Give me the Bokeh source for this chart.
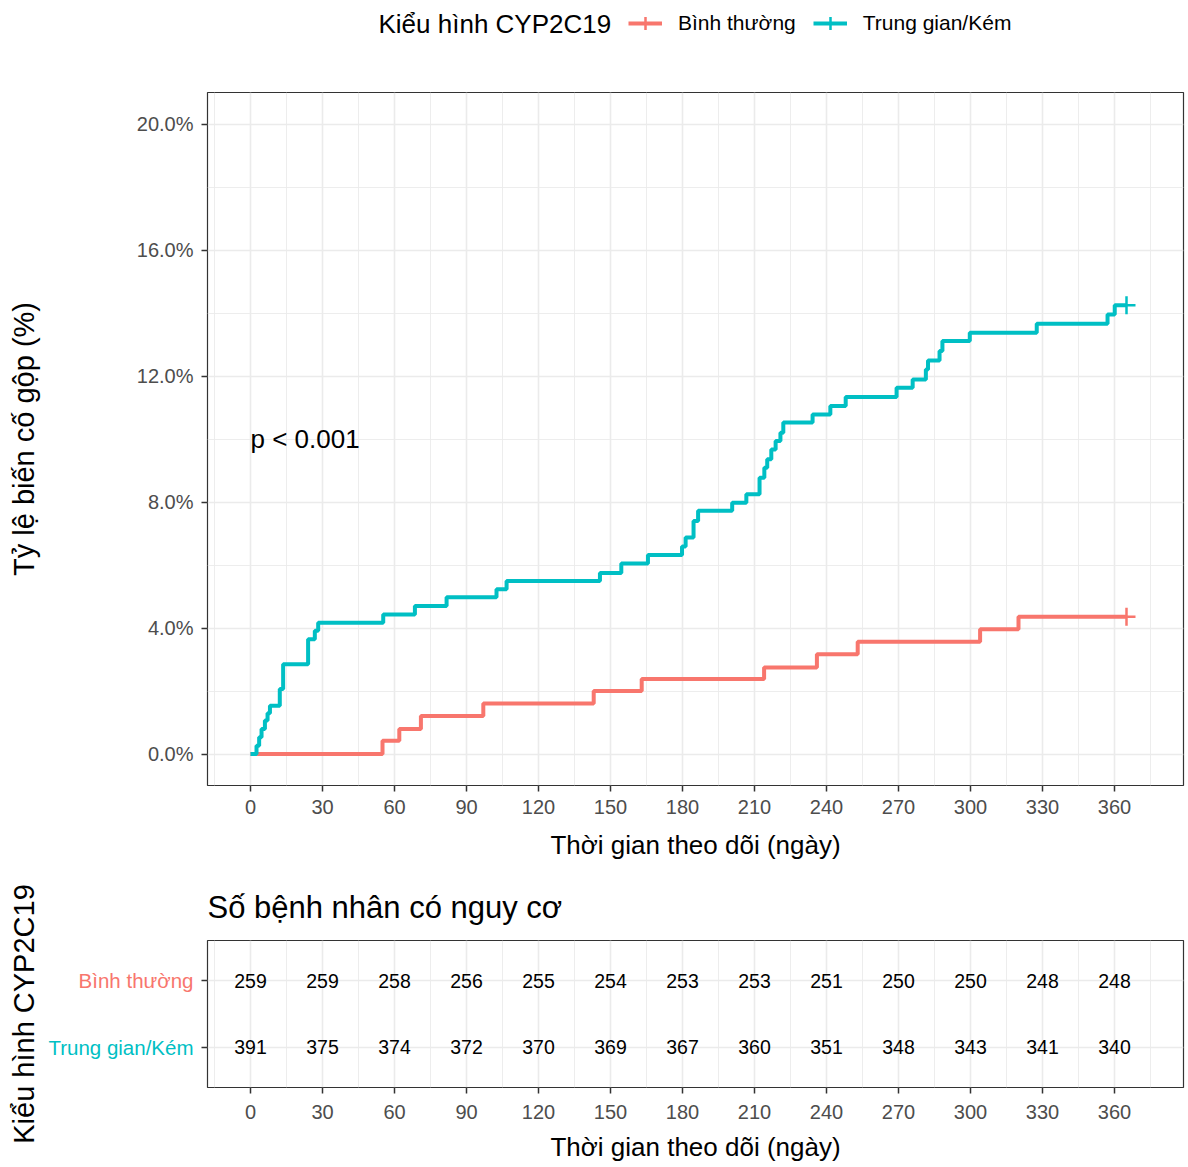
from bokeh.plotting import figure
from bokeh.models import (Range1d, FixedTicker, PrintfTickFormatter, Legend, LegendItem,
                          FactorRange, Label)
from bokeh.layouts import column, row
from bokeh.embed import file_html
from bokeh.resources import INLINE
from bokeh.core.properties import value

# ---------------- data ----------------
groups = ["Bình thường", "Trung gian/Kém"]
group_colors = ["#F8766D", "#00BFC4"]

red_days = [0, 55, 62, 71, 97, 143, 163, 214, 236, 253, 304, 320, 365]
red_pct = [0.0, 0.42, 0.79, 1.21, 1.60, 2.00, 2.38, 2.75, 3.17, 3.56, 3.96, 4.36, 4.36]

teal_days = [0, 2.5, 3.6, 4.6, 6.0, 7.1, 8.1, 12.2, 13.6, 24.0, 26.8, 28.2, 55.3, 68.5,
             81.7, 102.5, 106.7, 145.6, 154.5, 165.6, 179.8, 181.3, 184.6, 186.5, 200.7,
             206.6, 212.1, 214.1, 215.3, 217.0, 218.8, 220.8, 222.0, 234.2, 241.6, 248.0,
             269.2, 275.9, 281.4, 282.3, 287.1, 288.3, 299.7, 327.6, 357.1, 360.1, 365]
teal_pct = [0.0, 0.26, 0.53, 0.79, 1.06, 1.29, 1.53, 2.06, 2.85, 3.64, 3.91, 4.17, 4.43, 4.70,
            4.98, 5.23, 5.49, 5.75, 6.05, 6.32, 6.59, 6.87, 7.40, 7.72, 7.98,
            8.25, 8.77, 9.09, 9.36, 9.67, 9.94, 10.20, 10.52, 10.78, 11.05, 11.33,
            11.63, 11.89, 12.21, 12.49, 12.79, 13.11, 13.37, 13.66, 13.95, 14.25, 14.25]

censor_day = 365

risk_days = [0, 30, 60, 90, 120, 150, 180, 210, 240, 270, 300, 330, 360]
risk_normal = [259, 259, 258, 256, 255, 254, 253, 253, 251, 250, 250, 248, 248]
risk_inter = [391, 375, 374, 372, 370, 369, 367, 360, 351, 348, 343, 341, 340]

x_ticks = [0, 30, 60, 90, 120, 150, 180, 210, 240, 270, 300, 330, 360]
x_minor = [-15, 15, 45, 75, 105, 135, 165, 195, 225, 255, 285, 315, 345, 375]
y_ticks = [0, 4, 8, 12, 16, 20]
y_minor = [2, 6, 10, 14, 18]

legend_title = "Kiểu hình CYP2C19"
x_title = "Thời gian theo dõi (ngày)"
y_title = "Tỷ lệ biến cố gộp (%)"
risk_title = "Số bệnh nhân có nguy cơ"
pval_text = "p < 0.001"
pval_pos = (0, 10)

series_days = [red_days, teal_days]
series_pct = [red_pct, teal_pct]

FONT = "Liberation Sans"
GRID = "#EBEBEB"
DARK = "#333333"
TICKTXT = "#4D4D4D"

x_range = Range1d(-17.92, 388.75)


def style_common(p):
    p.outline_line_color = DARK
    p.outline_line_width = 1.2
    p.background_fill_color = "white"
    p.border_fill_color = "white"
    for ax in p.axis:
        ax.axis_line_color = None
        ax.major_tick_line_color = DARK
        ax.major_tick_line_width = 1.5
        ax.major_tick_out = 6
        ax.major_tick_in = 0
        ax.minor_tick_line_color = None
        ax.major_label_text_font = FONT
        ax.major_label_text_font_size = "20px"
        ax.major_label_text_color = TICKTXT
        ax.axis_label_text_font = FONT
        ax.axis_label_text_font_style = "normal"
        ax.axis_label_text_color = "black"
    p.xaxis.ticker = FixedTicker(ticks=x_ticks, minor_ticks=x_minor)
    p.xaxis.major_label_standoff = 8
    p.xaxis.axis_label = x_title
    p.xaxis.axis_label_text_font_size = "26px"
    p.xaxis.axis_label_standoff = 13
    p.xgrid.grid_line_color = GRID
    p.xgrid.grid_line_width = 1.6
    p.xgrid.minor_grid_line_color = GRID
    p.xgrid.minor_grid_line_width = 0.9


# ---------------- legend strip (top) ----------------
# Its frame is aligned by the column with the main frame (left edge at 207 px).
STRIP_H = 46
strip = figure(width=1188, height=STRIP_H, x_range=Range1d(1000, 1001),
               y_range=Range1d(1000, 1001),
               output_backend="svg", toolbar_location=None,
               x_axis_location=None, y_axis_location=None,
               min_border_left=0, min_border_right=0, min_border_top=0, min_border_bottom=0)
strip.outline_line_color = None
strip.grid.visible = False
key_items = []
for g, c, d, v in zip(groups, group_colors, series_days, series_pct):
    # same series as the main plot; the strip's ranges keep them out of view,
    # they only feed the legend key
    kl = strip.step(x=d, y=v, mode="after", line_color=c, line_width=4)
    kc = strip.scatter(x=[censor_day], y=[v[-1]], marker="cross", size=18,
                       line_color=c, line_width=2.5)
    key_items.append(LegendItem(label=g, renderers=[kl, kc]))
strip.add_layout(Label(x=171, y=STRIP_H - 23, x_units="screen", y_units="screen",
                       text=legend_title, text_font=FONT, text_font_size="26px",
                       text_color="black", text_align="left", text_baseline="middle"))
legend = Legend(items=key_items, location=(421, STRIP_H - 23 - 16), orientation="horizontal",
                label_text_font=FONT, label_text_font_size="21px", label_text_color="black",
                glyph_width=34, glyph_height=32, label_standoff=16, spacing=17,
                padding=0, margin=0, border_line_color=None, background_fill_alpha=0)
strip.add_layout(legend, "center")

# ---------------- main cumulative incidence plot ----------------
main = figure(width=1188, height=870 - STRIP_H, x_range=x_range, y_range=Range1d(-1, 21),
              output_backend="svg", toolbar_location=None,
              min_border_left=207, min_border_right=5, min_border_top=92 - STRIP_H,
              min_border_bottom=85)
style_common(main)
main.yaxis.ticker = FixedTicker(ticks=y_ticks, minor_ticks=y_minor)
main.yaxis.formatter = PrintfTickFormatter(format="%.1f%%")
main.yaxis.major_label_standoff = 8
main.yaxis.axis_label = y_title
main.yaxis.axis_label_text_font_size = "29px"
main.yaxis.axis_label_standoff = 94
main.ygrid.grid_line_color = GRID
main.ygrid.grid_line_width = 1.6
main.ygrid.minor_grid_line_color = GRID
main.ygrid.minor_grid_line_width = 0.9

for c, d, v in zip(group_colors, series_days, series_pct):
    main.step(d, v, mode="after", line_color=c, line_width=4)
    main.scatter([censor_day], [v[-1]], marker="cross", size=18, line_color=c, line_width=2.5)

main.text(x=[pval_pos[0]], y=[pval_pos[1]], text=[pval_text], text_font=value(FONT),
          text_font_size="26px", text_color="black", text_align="left",
          text_baseline="middle")

# ---------------- risk table ----------------
risk_factors = [groups[1], groups[0]]
risk_y = FactorRange(factors=risk_factors, range_padding=0.1)
LAB_W = 195

# left strip with the coloured group names and the table's y title
risk_lab = figure(width=LAB_W, height=297, x_range=Range1d(0, 1), y_range=risk_y,
                  output_backend="svg", toolbar_location=None, x_axis_location=None,
                  min_border_left=45, min_border_right=0, min_border_top=70,
                  min_border_bottom=80)
risk_lab.outline_line_color = None
risk_lab.grid.visible = False
risk_lab.yaxis.axis_line_color = None
risk_lab.yaxis.major_tick_line_color = None
risk_lab.yaxis.minor_tick_line_color = None
risk_lab.yaxis.major_label_text_color = None
risk_lab.yaxis.axis_label = legend_title
risk_lab.yaxis.axis_label_text_font = FONT
risk_lab.yaxis.axis_label_text_font_size = "29px"
risk_lab.yaxis.axis_label_text_font_style = "normal"
risk_lab.yaxis.axis_label_text_color = "black"
risk_lab.yaxis.axis_label_standoff = 0
risk_lab.text(x=[1] * len(groups), y=groups, text=groups, text_color=group_colors,
              text_font=value(FONT), text_font_size="20.5px", text_align="right",
              text_baseline="middle", x_offset=-2)

risk = figure(width=1188 - LAB_W, height=297, x_range=x_range, y_range=risk_y,
              output_backend="svg", toolbar_location=None,
              min_border_left=207 - LAB_W, min_border_right=5, min_border_top=70,
              min_border_bottom=80)
style_common(risk)
risk.yaxis.major_label_text_color = None
risk.yaxis.major_label_standoff = 0
risk.xaxis.major_label_standoff = 11
risk.xaxis.axis_label_standoff = 10
risk.ygrid.grid_line_color = GRID
risk.ygrid.grid_line_width = 1.6

risk.title.text = risk_title
risk.title.text_font = FONT
risk.title.text_font_size = "31px"
risk.title.text_font_style = "normal"
risk.title.text_color = "black"
risk.title.align = "left"
risk.title.standoff = 31

risk.text(x=risk_days + risk_days,
          y=[groups[0]] * len(risk_days) + [groups[1]] * len(risk_days),
          text=[str(v) for v in risk_normal + risk_inter],
          text_font=value(FONT), text_font_size="19.5px", text_color="black",
          text_align="center", text_baseline="middle")

page = column(strip, main, row(risk_lab, risk))
open("out.html", "w").write(file_html(page, INLINE))
